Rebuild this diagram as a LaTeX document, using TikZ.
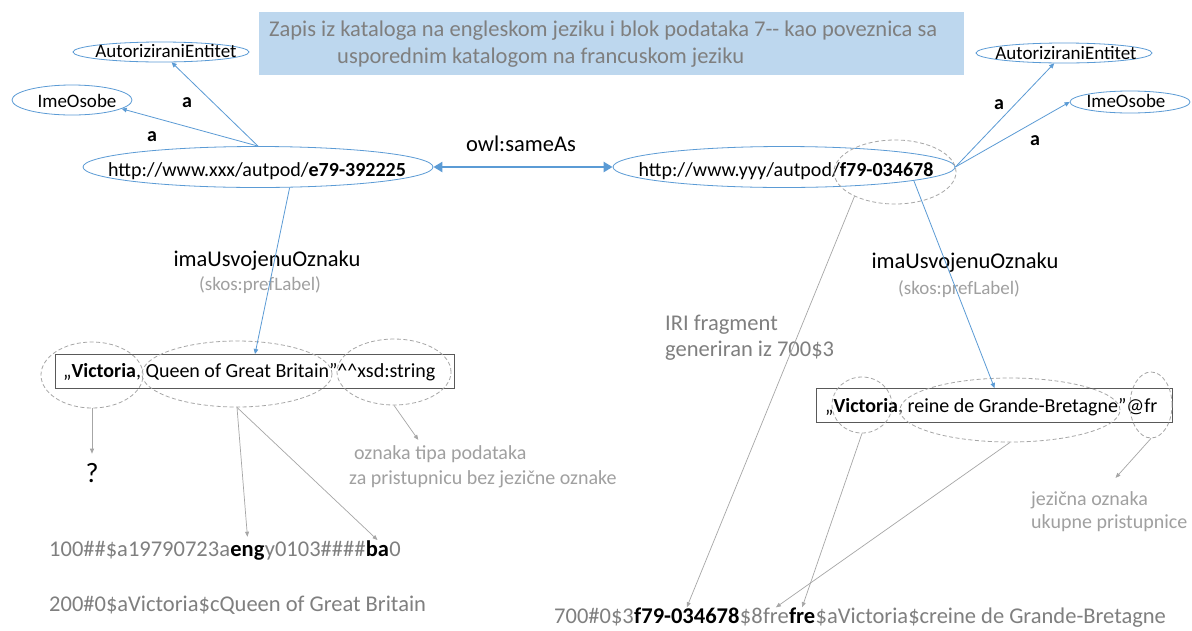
\documentclass[tikz,border=0pt]{standalone}
\usepackage{fontspec}
\setmainfont{Carlito}
\usetikzlibrary{shapes.geometric,arrows.meta}
\definecolor{myblue}{HTML}{5B9BD5}
\definecolor{titlefill}{HTML}{BDD7EE}
\definecolor{titletext}{HTML}{7F7F7F}
\definecolor{dgrey}{HTML}{A6A6A6}
\definecolor{mgrey}{HTML}{7F7F7F}
\definecolor{lgrey}{HTML}{A0A0A0}
\definecolor{boxline}{HTML}{595959}
\begin{document}
\begin{tikzpicture}[x=1pt,y=-1pt,
  blueell/.style={ellipse, draw=myblue, line width=0.8pt, inner sep=0pt},
  dashell/.style={ellipse, draw=dgrey, dashed, dash pattern=on 4pt off 2.5pt, line width=0.8pt, inner sep=0pt},
  bluearr/.style={draw=myblue, line width=0.8pt, -{Triangle[length=5pt,width=4.5pt]}},
  sameas/.style={draw=myblue, line width=2.5pt, {Triangle[length=9pt,width=10pt]}-{Triangle[length=9pt,width=10pt]}},
  greyarr/.style={draw=dgrey, line width=0.7pt, -{Triangle[length=5pt,width=4pt]}},
  txt/.style={inner sep=0pt, anchor=base},
  fnine/.style={font=\fontsize{19}{23}\selectfont},
  ften/.style={font=\fontsize{20}{24}\selectfont},
  ftwo/.style={font=\fontsize{22.5}{27}\selectfont},
  fa/.style={font=\fontsize{20}{24}\selectfont\bfseries},
  marc/.style={inner sep=0pt, anchor=base west, font=\fontsize{22.5}{27}\selectfont, text=mgrey},
  marcb/.style={inner sep=0pt, anchor=base west, font=\fontsize{22.5}{27}\selectfont\bfseries, text=black},
  boxstyle/.style={draw=boxline, line width=1pt, inner sep=0pt, anchor=north west, minimum height=34pt}
]
\fill[white] (0,0) rectangle (1192,630);
\path[use as bounding box] (0,0) rectangle (1192,630);

% title
\node[fill=titlefill, minimum width=705pt, minimum height=63pt, inner sep=0pt, anchor=north west] (titlebox) at (259,12) {};
\node[txt, anchor=base west, ftwo, text=titletext] (title1) at (269,36) {Zapis iz kataloga na engleskom jeziku i blok podataka 7-{}- kao poveznica sa};
\node[txt, anchor=base west, ftwo, text=titletext] (title2) at (337,63) {usporednim katalogom na francuskom jeziku};

% left resource
\node[blueell, minimum width=176pt, minimum height=20pt] (aeL) at (161,52) {};
\node[txt, fnine] (aeLt) at (166,57) {AutoriziraniEntitet};
\node[blueell, minimum width=120pt, minimum height=30pt] (ioL) at (72,100) {};
\node[txt, fnine] (ioLt) at (77,107) {ImeOsobe};
\node[blueell, minimum width=350pt, minimum height=41pt] (uriL) at (258,167) {};
\node[txt, ften] (uriLt) at (257,176) {http://www.xxx/autpod/\textbf{e79-392225}};

% right resource
\node[blueell, minimum width=176pt, minimum height=20pt] (aeR) at (1064,53) {};
\node[txt, fnine] (aeRt) at (1066,59) {AutoriziraniEntitet};
\node[blueell, minimum width=120pt, minimum height=22pt] (ioR) at (1130,102) {};
\node[txt, fnine] (ioRt) at (1126,107) {ImeOsobe};
\node[blueell, minimum width=342pt, minimum height=41pt] (uriR) at (784,167) {};
\node[txt, ften] (uriRt) at (786,176) {http://www.yyy/autpod/\textbf{f79-034678}};
\node[dashell, minimum width=122pt, minimum height=64pt] (dR0) at (895,172) {};

% labels
\node[txt, fa] (aL1) at (187,107) {a};
\node[txt, fa] (aL2) at (152,141) {a};
\node[txt, fa] (aR1) at (999,109) {a};
\node[txt, fa] (aR2) at (1035,145) {a};
\node[txt, ftwo] (same) at (521,151) {owl:sameAs};
\node[txt, ftwo] (imaL) at (267,266) {imaUsvojenuOznaku};
\node[txt, fnine, text=lgrey] (skosL) at (260,290) {(skos:prefLabel)};
\node[txt, ftwo] (imaR) at (965,268) {imaUsvojenuOznaku};
\node[txt, fnine, text=lgrey] (skosR) at (959,294) {(skos:prefLabel)};

% left literal
\node[boxstyle, minimum width=399pt] (litL) at (55,354) {};
\node[txt, anchor=base west, ften] (litLt) at (63,377) {„\textbf{Victoria}, Queen of Great Britain”\textasciicircum\textasciicircum xsd:string};
\node[dashell, minimum width=102pt, minimum height=66pt] (dL1) at (92,375) {};
\node[dashell, minimum width=190pt, minimum height=66pt] (dL2) at (237,374) {};
\node[dashell, minimum width=114pt, minimum height=66pt] (dL3) at (394,372) {};
\node[txt, font=\fontsize{28}{32}\selectfont] (q) at (92,482) {?};
\node[txt, anchor=base west, ften, text=lgrey] (ann1a) at (354,459) {oznaka tipa podataka};
\node[txt, anchor=base west, ften, text=lgrey] (ann1b) at (349,484) {za pristupnicu bez jezične oznake};

% right literal
\node[boxstyle, minimum width=356pt] (litR) at (816,388) {};
\node[txt, anchor=base west, ften] (litRt) at (825,412) {„\textbf{Victoria}, reine de Grande-Bretagne”@fr};
\node[dashell, minimum width=60pt, minimum height=56pt] (dF1) at (862,405) {};
\node[dashell, minimum width=220pt, minimum height=64pt] (dF2) at (1010,410) {};
\node[dashell, minimum width=42pt, minimum height=66pt] (dF3) at (1151,405) {};
\node[txt, anchor=base west, ften, text=lgrey] (ann2a) at (1031,505) {jezična oznaka};
\node[txt, anchor=base west, ften, text=lgrey] (ann2b) at (1031,528) {ukupne pristupnice};
\node[txt, anchor=base west, ftwo, text=mgrey] (iri1) at (665,330) {IRI fragment};
\node[txt, anchor=base west, ftwo, text=mgrey] (iri2) at (665,356) {generiran iz 700\$3};

% MARC rows
\node[marc] (m1a) at (49,556) {100\#\#\$a19790723a};
\node[marcb] (eng) at (m1a.base east) {eng};
\node[marc] (m1c) at (eng.base east) {y0103\#\#\#\#};
\node[marcb] (ba) at (m1c.base east) {ba};
\node[marc] (m1e) at (ba.base east) {0};
\node[marc] (m2) at (49,611) {200\#0\$aVictoria\$cQueen of Great Britain};
\node[marc] (m3a) at (554,623) {700\#0\$3};
\node[marcb] (f79) at (m3a.base east) {f79-034678};
\node[marc] (m3c) at (f79.base east) {\$8};
\node[marc] (fre1) at (m3c.base east) {fre};
\node[marcb] (fre2) at (fre1.base east) {fre};
\node[marc] (m3f) at (fre2.base east) {\$aVictoria\$creine de Grande-Bretagne};

% connectors
\draw[bluearr] (uriL.north) -- (aeL);
\draw[bluearr] (uriL.north) -- (ioL.-10);
\draw[bluearr] (uriR.east) -- (aeR);
\draw[bluearr] (uriR.east) -- (ioR.west);
\draw[sameas] (uriL.east) -- (uriR.west);
\draw[bluearr] (uriL.-33.3) -- (litL.north);
\draw[bluearr] (uriR.-6.5) -- (litR.north);

\draw[greyarr] (dL1.south) -- ([yshift=9pt]q.north);
\draw[greyarr] (dL2.south) -- ([yshift=8pt]eng.north);
\draw[greyarr] (dL2.south) -- (ba.north);
\draw[greyarr] (dL3.south) -- ([shift={(-22pt,5pt)}]ann1a.north);
\draw[greyarr] (dR0.211) -- (f79.north);
\draw[greyarr] (dF1.south) -- (fre2.north);
\draw[greyarr] (dF2.south) -- (fre1.north);
\draw[greyarr] (dF3.south) -- ([shift={(26pt,13pt)}]ann2a.north);
\end{tikzpicture}
\end{document}
